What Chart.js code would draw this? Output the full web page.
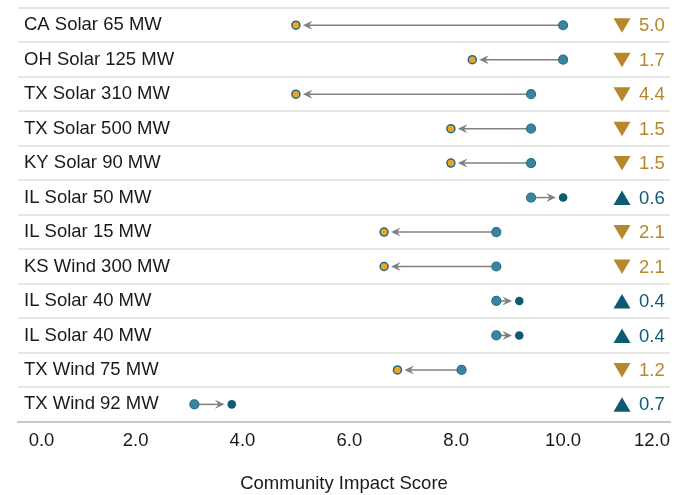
<!DOCTYPE html>
<html>
<head>
<meta charset="utf-8">
<script src="https://cdn.jsdelivr.net/npm/chart.js@4.4.1/dist/chart.umd.min.js"></script>
<style>
  html, body { margin: 0; padding: 0; background: #fff; }
  #wrap { width: 690px; height: 495px; }
</style>
</head>
<body>
<div id="wrap"><canvas id="myChart"></canvas></div>
<script>
(() => {
    "use strict";

    const projects = [
        "CA Solar 65 MW", "OH Solar 125 MW", "TX Solar 310 MW", "TX Solar 500 MW",
        "KY Solar 90 MW", "IL Solar 50 MW", "IL Solar 15 MW", "KS Wind 300 MW",
        "IL Solar 40 MW", "IL Solar 40 MW", "TX Wind 75 MW", "TX Wind 92 MW",
    ];
    const before = [10.0, 10.0, 9.4, 9.4, 9.4, 9.4, 8.75, 8.75, 8.75, 8.75, 8.1, 3.1];
    const after = [5.0, 8.3, 5.0, 7.9, 7.9, 10.0, 6.65, 6.65, 9.18, 9.18, 6.9, 3.8];
    const xTicks = [0, 2, 4, 6, 8, 10, 12];

    const FONT = "'Liberation Sans', Arial, sans-serif";
    const GOLD = "#b8862b";
    const TEAL_DARK = "#0d5a73";
    const TEAL = "#3b84a0";
    const ARROW = "#808080";

    const isUp = (i) => after[i] > before[i];
    const endRadius = (i) => (isUp(i) ? 4.3 : 4);

    const arrows = {
        id: "arrows",
        beforeDatasetsDraw(chart) {
            const { ctx } = chart;
            const xs = chart.scales.x;
            const ys = chart.scales.y;
            ctx.save();
            ctx.strokeStyle = ARROW;
            ctx.fillStyle = ARROW;
            ctx.lineWidth = 1.5;
            before.forEach((b, i) => {
                const x0 = xs.getPixelForValue(b);
                const x1 = xs.getPixelForValue(after[i]);
                const y = ys.getPixelForValue(i);
                const dir = x1 > x0 ? 1 : -1;
                const tip = x1 - dir * (endRadius(i) + 3);
                ctx.beginPath();
                ctx.moveTo(x0, y);
                ctx.lineTo(tip - dir * 5, y);
                ctx.stroke();
                ctx.beginPath();
                ctx.moveTo(tip, y);
                ctx.lineTo(tip - dir * 9.5, y - 4.5);
                ctx.lineTo(tip - dir * 6, y);
                ctx.lineTo(tip - dir * 9.5, y + 4.5);
                ctx.closePath();
                ctx.fill();
            });
            ctx.restore();
        },
    };

    const deltas = {
        id: "deltas",
        afterDraw(chart) {
            const { ctx, chartArea } = chart;
            const ys = chart.scales.y;
            const cx = chartArea.right - 48;
            ctx.save();
            ctx.font = "18.5px " + FONT;
            ctx.textBaseline = "middle";
            ctx.textAlign = "left";
            before.forEach((b, i) => {
                const y = ys.getPixelForValue(i);
                const up = isUp(i);
                ctx.fillStyle = up ? TEAL_DARK : GOLD;
                ctx.beginPath();
                if (up) {
                    ctx.moveTo(cx, y - 7);
                    ctx.lineTo(cx + 8.5, y + 7.5);
                    ctx.lineTo(cx - 8.5, y + 7.5);
                } else {
                    ctx.moveTo(cx - 8.5, y - 7);
                    ctx.lineTo(cx + 8.5, y - 7);
                    ctx.lineTo(cx, y + 7.5);
                }
                ctx.closePath();
                ctx.fill();
                ctx.fillText(Math.abs(after[i] - b).toFixed(1), chartArea.right - 31, y + 1);
            });
            ctx.restore();
        },
    };

    const canvas = document.getElementById("myChart");
    // @ts-ignore
    new Chart(canvas, {
        type: "scatter",
        data: {
            labels: projects,
            datasets: [
                {
                    label: "Before",
                    data: before.map((v, i) => ({ x: v, y: i })),
                    pointRadius: 4.5,
                    pointBackgroundColor: TEAL,
                    pointBorderColor: "#2a6f8c",
                    pointBorderWidth: 1.2,
                },
                {
                    label: "After",
                    data: after.map((v, i) => ({ x: v, y: i })),
                    pointRadius: after.map((v, i) => endRadius(i)),
                    pointBackgroundColor: after.map((v, i) => (isUp(i) ? TEAL_DARK : "#f2a51c")),
                    pointBorderColor: after.map((v, i) => (isUp(i) ? TEAL_DARK : "#1f6b86")),
                    pointBorderWidth: after.map((v, i) => (isUp(i) ? 0 : 1.5)),
                },
            ],
        },
        options: {
            responsive: true,
            maintainAspectRatio: false,
            animation: false,
            layout: { padding: { left: 6, right: 20, top: 8, bottom: 0 } },
            plugins: {
                legend: { display: false },
                tooltip: { enabled: false },
            },
            scales: {
                x: {
                    type: "linear",
                    min: -0.2,
                    max: 12,
                    afterBuildTicks: (scale) => {
                        scale.ticks = xTicks.map((v) => ({ value: v }));
                    },
                    grid: { display: false, drawTicks: false },
                    border: { display: true, color: "#c8c8c8", width: 2 },
                    ticks: {
                        align: "inner",
                        padding: 8,
                        color: "#1a1a1a",
                        font: { family: FONT, size: 18.5 },
                        callback: (v) => Number(v).toFixed(1),
                    },
                    title: {
                        display: true,
                        text: "Community Impact Score",
                        color: "#1a1a1a",
                        font: { family: FONT, size: 18.5 },
                        padding: { top: 13, bottom: 0 },
                    },
                },
                y: {
                    type: "category",
                    offset: true,
                    afterFit: (scale) => {
                        scale.paddingTop = 0;
                        scale.paddingBottom = 0;
                    },
                    grid: { offset: true, color: "#e6e6e6", lineWidth: 2, drawTicks: false },
                    border: { display: false },
                    ticks: {
                        mirror: true,
                        padding: 6,
                        color: "#1a1a1a",
                        font: { family: FONT, size: 18.5 },
                    },
                },
            },
        },
        plugins: [arrows, deltas],
    });
})();
</script>
</body>
</html>
